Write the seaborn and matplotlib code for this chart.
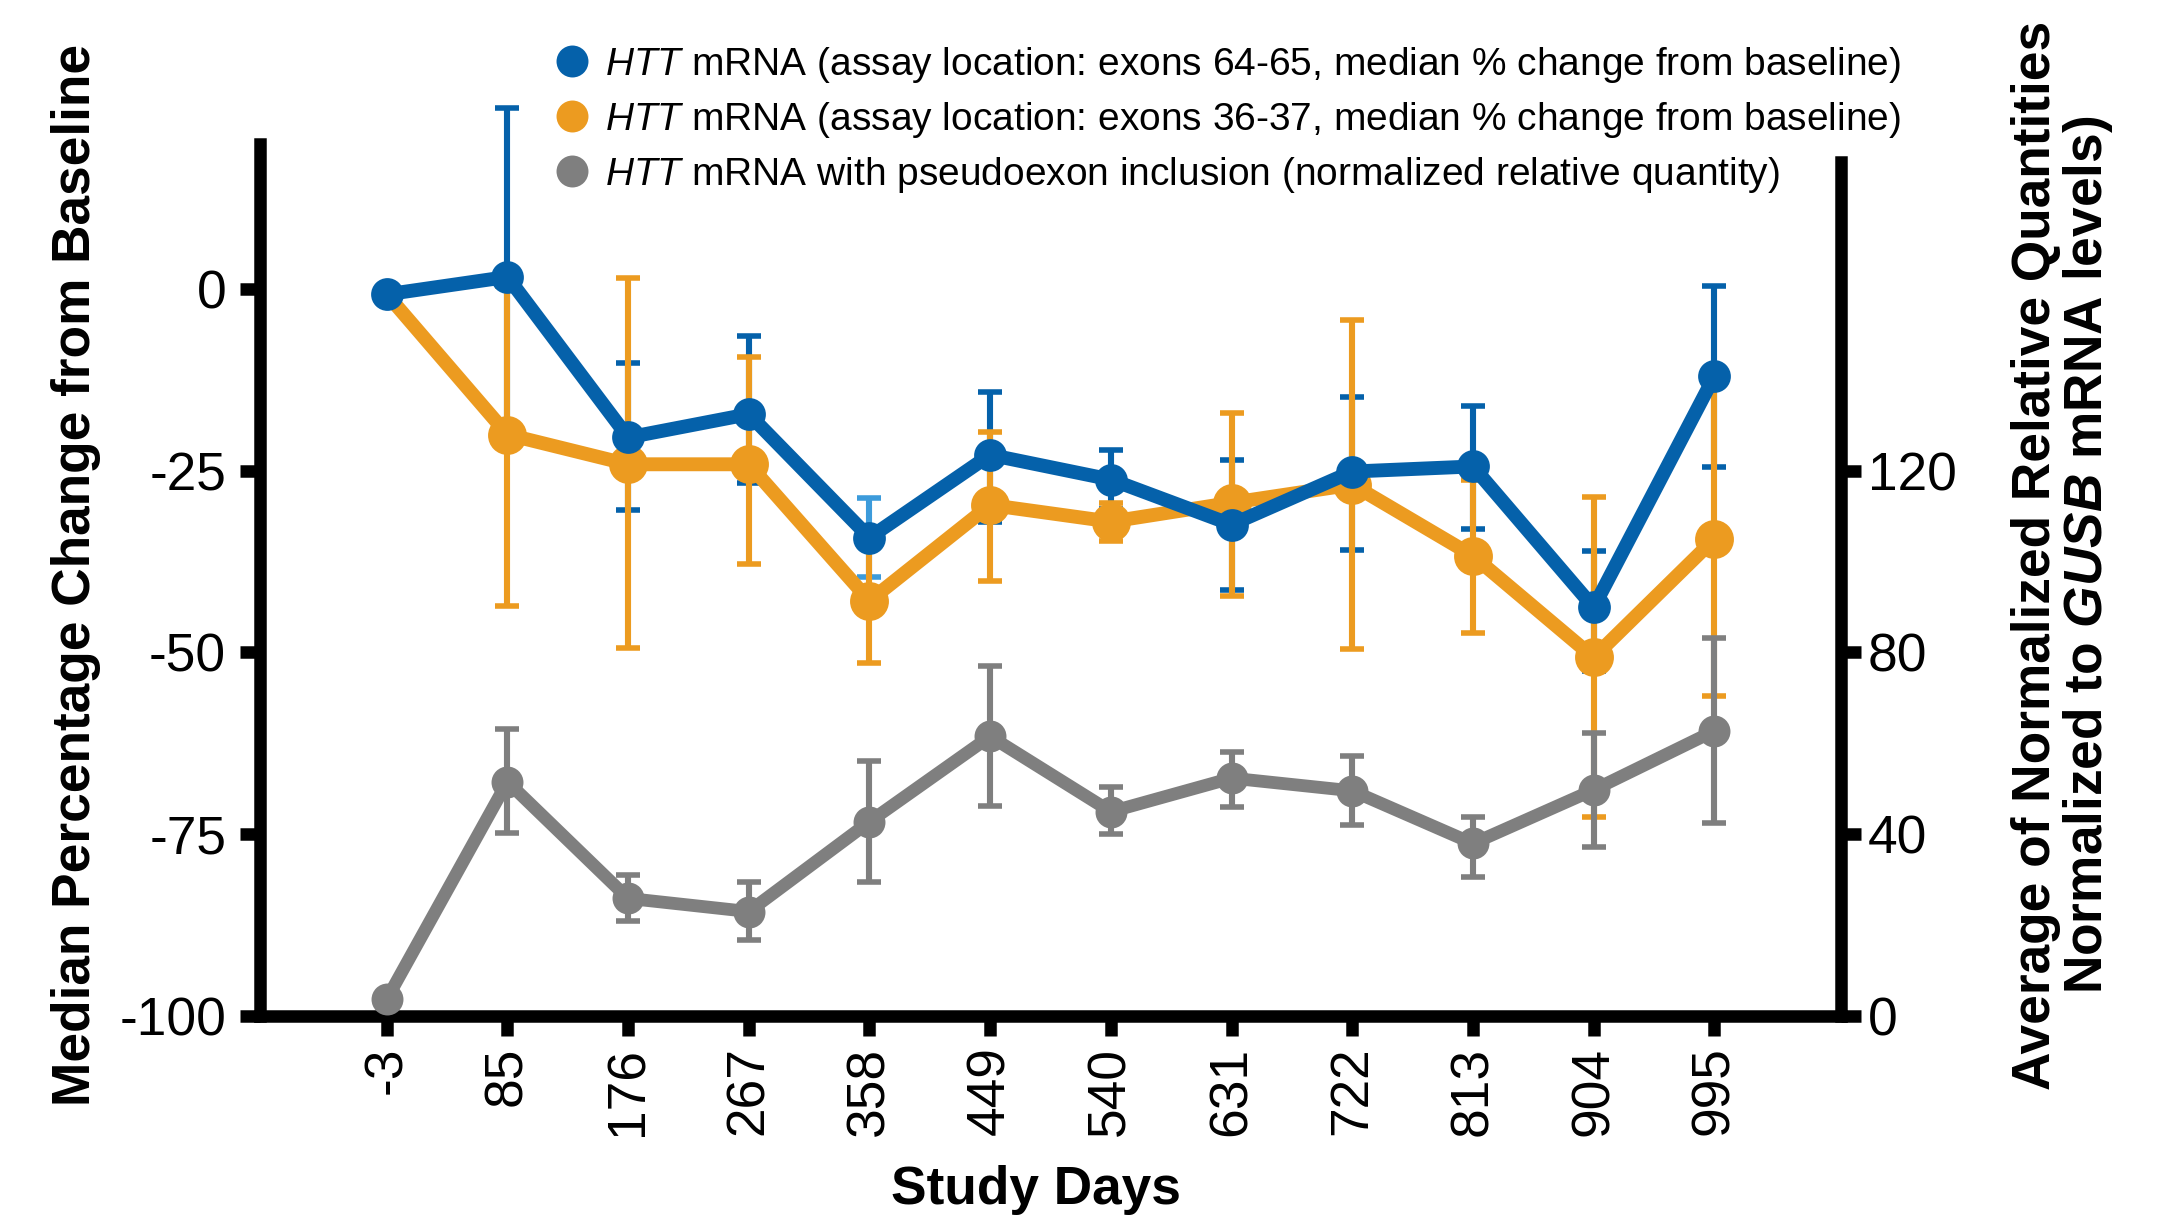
import numpy as np
import matplotlib
matplotlib.use("Agg")
import matplotlib.pyplot as plt
from matplotlib.lines import Line2D
import seaborn as sns

# ---------------- data ----------------
days = ["-3", "85", "176", "267", "358", "449", "540", "631", "722", "813", "904", "995"]

# HTT mRNA exons 64-65 (median % change from baseline), with error bar ends
blue_mean = [-0.7, 1.7, -20.4, -17.2, -34.2, -22.8, -26.2, -32.4, -25.1, -24.4, -43.8, -12.0]
blue_hi = [-0.7, 24.9, -10.1, -6.4, -28.8, -14.1, -22.2, -23.5, -14.9, -16.1, -36.1, 0.4]
blue_lo = [-0.7, -21.7, -30.4, -26.7, -39.6, -32.1, -30.2, -41.4, -35.9, -33.0, -52.5, -24.5]

# HTT mRNA exons 36-37 (median % change from baseline)
orange_mean = [-0.7, -20.0, -24.1, -24.1, -42.9, -29.7, -32.0, -29.4, -26.9, -36.7, -50.7, -34.4]
orange_hi = [-0.7, 0.5, 1.6, -9.3, -34.3, -19.7, -29.4, -17.1, -4.3, -26.2, -28.6, -12.8]
orange_lo = [-0.7, -43.6, -49.4, -37.9, -51.5, -40.2, -34.7, -42.2, -49.5, -47.4, -72.6, -56.0]

# HTT mRNA with pseudoexon inclusion (normalized relative quantity, right axis)
gray_mean = [3.6, 51.5, 25.8, 22.9, 42.7, 61.5, 44.9, 52.3, 49.5, 37.9, 49.7, 62.7]
gray_hi = [3.6, 63.1, 31.0, 29.5, 56.1, 77.1, 50.3, 58.1, 57.2, 43.7, 62.3, 83.1]
gray_lo = [3.6, 40.2, 20.9, 16.6, 29.5, 46.2, 39.9, 45.9, 42.0, 30.6, 37.1, 42.5]

left_ticks = [-100, -75, -50, -25, 0]
right_ticks = [0, 40, 80, 120]

legend_labels = [
    r"$\mathit{HTT}$ mRNA (assay location: exons 64-65, median % change from baseline)",
    r"$\mathit{HTT}$ mRNA (assay location: exons 36-37, median % change from baseline)",
    r"$\mathit{HTT}$ mRNA with pseudoexon inclusion (normalized relative quantity)",
]

BLUE = "#0561AA"
LIGHT_BLUE = "#3C9BDB"
ORANGE = "#EC9B20"
GRAY = "#7F7F7F"

# ---------------- style ----------------
sns.set_style("white")
plt.rcParams.update({
    "font.family": ["Liberation Sans", "DejaVu Sans"],
    "mathtext.fontset": "custom",
    "mathtext.rm": "Liberation Sans",
    "mathtext.it": "Liberation Sans:italic",
    "mathtext.bf": "Liberation Sans:bold",
    "mathtext.bfit": "Liberation Sans:italic:bold",
    "axes.unicode_minus": False,
    "text.color": "black",
    "axes.labelcolor": "black",
    "xtick.color": "black",
    "ytick.color": "black",
    "axes.edgecolor": "black",
})

FS = 19.2
fig = plt.figure(figsize=(10.88, 6.095), dpi=200)
ax = fig.add_axes([0.1195, 0.16694, 0.72656, 0.71493])
ax2 = ax.twinx()

pos = np.arange(len(days))

def err(mean, lo, hi):
    mean = np.asarray(mean); lo = np.asarray(lo); hi = np.asarray(hi)
    return np.vstack([mean - lo, hi - mean])

eb_kw = dict(fmt="none", elinewidth=2.2, capsize=4.2, capthick=2.0)

def unclip(container):
    for art in container.get_children():
        art.set_clip_on(False)

# blue error bars (one drawn lighter as in the reference)
be = err(blue_mean, blue_lo, blue_hi)
idx_dark = [i for i in range(len(days)) if i != 4]
unclip(ax.errorbar(pos[idx_dark], np.asarray(blue_mean)[idx_dark], yerr=be[:, idx_dark],
                   ecolor=BLUE, zorder=1, **eb_kw))
unclip(ax.errorbar(pos[[4]], np.asarray(blue_mean)[[4]], yerr=be[:, [4]],
                   ecolor=LIGHT_BLUE, zorder=1, **eb_kw))
unclip(ax.errorbar(pos, orange_mean, yerr=err(orange_mean, orange_lo, orange_hi),
                   ecolor=ORANGE, zorder=1.5, **eb_kw))

sns.lineplot(x=pos, y=orange_mean, ax=ax, color=ORANGE, linewidth=5.0,
             marker="o", markersize=14.0, markeredgewidth=0, zorder=3, legend=False,
             markevery=list(range(1, len(days))))
sns.lineplot(x=pos, y=blue_mean, ax=ax, color=BLUE, linewidth=5.0,
             marker="o", markersize=11.8, markeredgewidth=0, zorder=4, legend=False)

unclip(ax2.errorbar(pos, gray_mean, yerr=err(gray_mean, gray_lo, gray_hi),
                    ecolor=GRAY, zorder=1, **eb_kw))
sns.lineplot(x=pos, y=gray_mean, ax=ax2, color=GRAY, linewidth=4.6,
             marker="o", markersize=11.5, markeredgewidth=0, zorder=3, legend=False)

# ---------------- axes ----------------
ax.set_xlim(-1.05, 12.05)
ax.set_ylim(-100, 20)
ax2.set_ylim(0, 192)

ax.set_xticks(pos)
ax.set_xticklabels(days, rotation=90)
ax.set_yticks(left_ticks)
ax.set_yticklabels([str(t) for t in left_ticks])
ax2.set_yticks(right_ticks)
ax2.set_yticklabels([str(t) for t in right_ticks])

SW = 4.5
for s in ["top", "right"]:
    ax.spines[s].set_visible(False)
for s in ["top", "left", "bottom"]:
    ax2.spines[s].set_visible(False)
for s in ["left", "bottom"]:
    ax.spines[s].set_linewidth(SW)
    ax.spines[s].set_color("black")
ax2.spines["right"].set_linewidth(SW)
ax2.spines["right"].set_color("black")
ax2.spines["right"].set_bounds(0, 188)

ax.tick_params(axis="y", direction="out", length=7.2, width=SW, labelsize=FS, pad=5,
               left=True, color="black", labelcolor="black")
ax.tick_params(axis="x", direction="out", length=7.2, width=SW, labelsize=FS, pad=4,
               bottom=True, color="black", labelcolor="black")
ax2.tick_params(axis="y", direction="out", length=7.2, width=SW, labelsize=FS, pad=2.5,
                right=True, color="black", labelcolor="black")
ax.grid(False)
ax2.grid(False)

ax.set_xlabel("Study Days", fontsize=FS, fontweight="bold", color="black")
ax.xaxis.set_label_coords(0.491, -0.171)
ax.xaxis.label.set_va("top")

ax.set_ylabel("Median Percentage Change from Baseline", fontsize=FS, fontweight="bold",
              color="black")
ax.yaxis.label.set_va("center")
ax.yaxis.set_label_coords(-0.1164, 0.5055)

ax2.set_ylabel("Average of Normalized Relative Quantities\n"
               r"Normalized to $\mathbfit{GUSB}$ mRNA levels)",
               fontsize=FS, fontweight="bold", linespacing=0.98, color="black")
ax2.yaxis.label.set_rotation(90)
ax2.yaxis.label.set_va("center")
ax2.yaxis.label.set_ha("center")
ax2.yaxis.set_label_coords(1.1404, 0.528)

# ---------------- legend ----------------
handles = [Line2D([], [], linestyle="none", marker="o", markersize=11.5,
                  markerfacecolor=c, markeredgewidth=0)
           for c in (BLUE, ORANGE, GRAY)]
leg = fig.legend(handles, legend_labels, loc="upper left", bbox_to_anchor=(0.2557, 0.963),
                 frameon=False, fontsize=14, handlelength=0.8, handletextpad=0.46,
                 labelspacing=0.38, borderpad=0, borderaxespad=0)
for t in leg.get_texts():
    t.set_color("black")

fig.savefig("out.png", dpi=200)
